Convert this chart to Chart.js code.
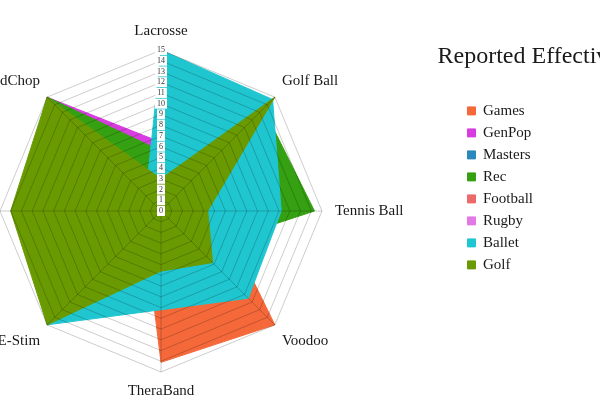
<!DOCTYPE html>
<html>
<head>
<meta charset="utf-8">
<script src="https://cdn.jsdelivr.net/npm/chart.js@4.4.1/dist/chart.umd.min.js"></script>
<style>
  html, body { margin: 0; padding: 0; background: #fff; overflow: hidden; }
  /* the picture is a crop of a wider chart, so the canvas hangs off both sides */
  #wrap { position: absolute; left: -138px; top: 0; width: 781px; height: 400px; }
</style>
</head>
<body>
<div id="wrap"><canvas id="myChart"></canvas></div>
<script>
const heading = 'Reported Effectiveness';
const axisLabels = ['Lacrosse', 'Golf Ball', 'Tennis Ball', 'Voodoo', 'TheraBand', 'E-Stim', 'Foam Roller', 'HandChop'];
const tickMax = 15;

// values per axis, same order as axisLabels
const games    = [2, 8, 5.4, 15, 14.1, 2.2, 10, 9];
const genPop   = [6.4, 10, 8, 7, 6, 9, 12, 15];
const masters  = [2, 9, 8, 8, 7, 11, 10, 9];
const rec      = [5.6, 13.5, 14.3, 5, 6, 10, 11, 15];
const football = [1, 7, 6, 9, 8, 12, 9, 10];
const rugby    = [2, 11, 9, 6, 5, 8, 11, 12];
const ballet   = [15, 14.7, 11.2, 11.5, 9.2, 15, 12, 2];
const golf     = [3, 15, 4.35, 6.8, 5.6, 15, 14, 15];

const seriesNames  = ['Games', 'GenPop', 'Masters', 'Rec', 'Football', 'Rugby', 'Ballet', 'Golf'];
const seriesValues = [games, genPop, masters, rec, football, rugby, ballet, golf];
const seriesColors = ['#f5683a', '#d83ce0', '#2a88bc', '#35a012', '#ec6a6a', '#e27ae6', '#1fc6d0', '#6a9a02'];

Chart.defaults.font.family = '"Liberation Serif", serif';
Chart.defaults.color = '#1a1a1a';

// heading sits left of the legend items, further than the legend title can go
const headingPlugin = {
  id: 'heading',
  afterDraw(chart) {
    const ctx = chart.ctx;
    ctx.save();
    ctx.font = '24px "Liberation Serif", serif';
    ctx.fillStyle = '#1a1a1a';
    ctx.textBaseline = 'middle';
    ctx.fillText(heading, chart.legend.left - 23, 57);
    ctx.restore();
  }
};

const gridColor = 'rgba(0, 0, 0, 0.2)';

new Chart(document.getElementById('myChart'), {
  type: 'radar',
  data: {
    labels: axisLabels,
    datasets: seriesNames.map((name, i) => ({
      label: name,
      data: seriesValues[i],
      backgroundColor: seriesColors[i],
      borderColor: seriesColors[i],
      borderWidth: 1,
      fill: true,
      pointRadius: 0,
      tension: 0,
      order: seriesNames.length - i // later series paint on top
    }))
  },
  options: {
    responsive: true,
    maintainAspectRatio: false,
    animation: false,
    layout: { padding: { top: 22, bottom: 0, left: 0, right: 100 } },
    scales: {
      r: {
        min: -1e-9, // lets the 0 tick label show
        max: tickMax,
        grid: { color: gridColor, lineWidth: 1, z: 1 },
        angleLines: { color: gridColor, lineWidth: 1 },
        pointLabels: {
          font: { size: 15 },
          color: '#1a1a1a',
          padding: (ctx) => (ctx.index === 2 || ctx.index === 6 ? 8 : 5)
        },
        ticks: {
          stepSize: 1,
          z: 2,
          font: { size: 8 },
          color: '#333',
          showLabelBackdrop: true,
          backdropColor: '#fff',
          backdropPadding: { x: 2, y: 1 },
          callback: (v) => String(Math.abs(Math.round(v)))
        }
      }
    },
    plugins: {
      legend: {
        position: 'right',
        align: 'start',
        title: { display: true, text: '', font: { size: 12 }, padding: { top: 60, bottom: 0 } },
        labels: {
          boxWidth: 8,
          boxHeight: 8,
          padding: 7,
          font: { size: 15 },
          color: '#1a1a1a',
          sort: (a, b) => a.datasetIndex - b.datasetIndex
        }
      },
      tooltip: { enabled: false }
    }
  },
  plugins: [headingPlugin]
});
</script>
</body>
</html>
